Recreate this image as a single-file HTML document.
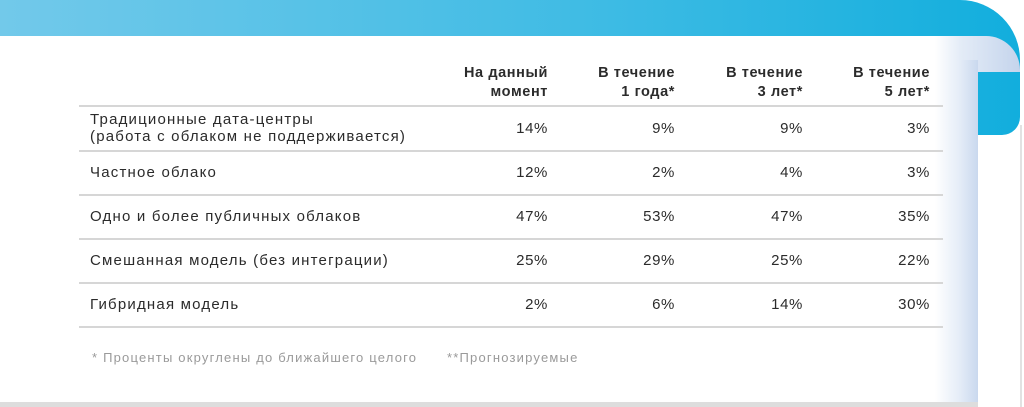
<!DOCTYPE html>
<html><head><meta charset="utf-8"><style>
body{margin:0;width:1024px;height:407px;overflow:hidden;background:#fff;position:relative;font-family:"Liberation Sans",sans-serif;color:#2b2b2b}
.band{position:absolute;left:0;top:0;width:1020px;height:135px;background:linear-gradient(90deg,#72c9ea,#3dbbe4 60%,#12aedd);border-top-right-radius:60px;border-bottom-right-radius:18px}
.vl{position:absolute;left:1020px;top:125px;width:2px;height:282px;background:#e2e2e2}
.ptop{position:absolute;left:0;top:36px;width:1020px;height:36px;background:linear-gradient(90deg,#fff 0,#fff 935px,#e4ecf7 960px,#c4d4ec 1020px);border-top-right-radius:34px}
.panel{position:absolute;left:0;top:60px;width:978px;height:342px;background:linear-gradient(90deg,#fff 0,#fff 935px,#e4ecf7 960px,#c9d8ee 978px)}
.bottom{position:absolute;left:0;top:402px;width:978px;height:5px;background:#ddd}
.line{position:absolute;left:79px;width:864px;height:2px;background:#d6d6d6}
.t{position:absolute;font-size:15px;letter-spacing:1.2px;white-space:nowrap}
.r{text-align:right;letter-spacing:.6px}
.h{font-weight:bold;font-size:14.5px;line-height:19px;letter-spacing:.6px}
.f{position:absolute;top:350px;font-size:13px;color:#9a9a9a;letter-spacing:1.2px}
</style></head><body>
<div class="band"></div>
<div class="vl"></div>
<div class="ptop"></div>
<div class="panel"></div>
<div class="bottom"></div>
<div class="t h r" style="right:476px;top:64px">На данный<br>момент</div>
<div class="t h r" style="right:349px;top:64px">В течение<br>1 года*</div>
<div class="t h r" style="right:221px;top:64px">В течение<br>3 лет*</div>
<div class="t h r" style="right:94px;top:64px">В течение<br>5 лет*</div>
<div class="line" style="top:105px"></div>
<div class="line" style="top:150px"></div>
<div class="line" style="top:194px"></div>
<div class="line" style="top:238px"></div>
<div class="line" style="top:282px"></div>
<div class="line" style="top:326px"></div>
<div class="t" style="left:90px;top:111px;line-height:17px">Традиционные дата-центры<br>(работа с облаком не поддерживается)</div>
<div class="t" style="left:90px;top:164px">Частное облако</div>
<div class="t" style="left:90px;top:208px">Одно и более публичных облаков</div>
<div class="t" style="left:90px;top:252px">Смешанная модель (без интеграции)</div>
<div class="t" style="left:90px;top:296px">Гибридная модель</div>
<div class="t r" style="right:476px;top:120px">14%</div><div class="t r" style="right:349px;top:120px">9%</div><div class="t r" style="right:221px;top:120px">9%</div><div class="t r" style="right:94px;top:120px">3%</div>
<div class="t r" style="right:476px;top:164px">12%</div><div class="t r" style="right:349px;top:164px">2%</div><div class="t r" style="right:221px;top:164px">4%</div><div class="t r" style="right:94px;top:164px">3%</div>
<div class="t r" style="right:476px;top:208px">47%</div><div class="t r" style="right:349px;top:208px">53%</div><div class="t r" style="right:221px;top:208px">47%</div><div class="t r" style="right:94px;top:208px">35%</div>
<div class="t r" style="right:476px;top:252px">25%</div><div class="t r" style="right:349px;top:252px">29%</div><div class="t r" style="right:221px;top:252px">25%</div><div class="t r" style="right:94px;top:252px">22%</div>
<div class="t r" style="right:476px;top:296px">2%</div><div class="t r" style="right:349px;top:296px">6%</div><div class="t r" style="right:221px;top:296px">14%</div><div class="t r" style="right:94px;top:296px">30%</div>
<div class="f" style="left:92px">* Проценты округлены до ближайшего целого</div>
<div class="f" style="left:447px">**Прогнозируемые</div>
</body></html>
